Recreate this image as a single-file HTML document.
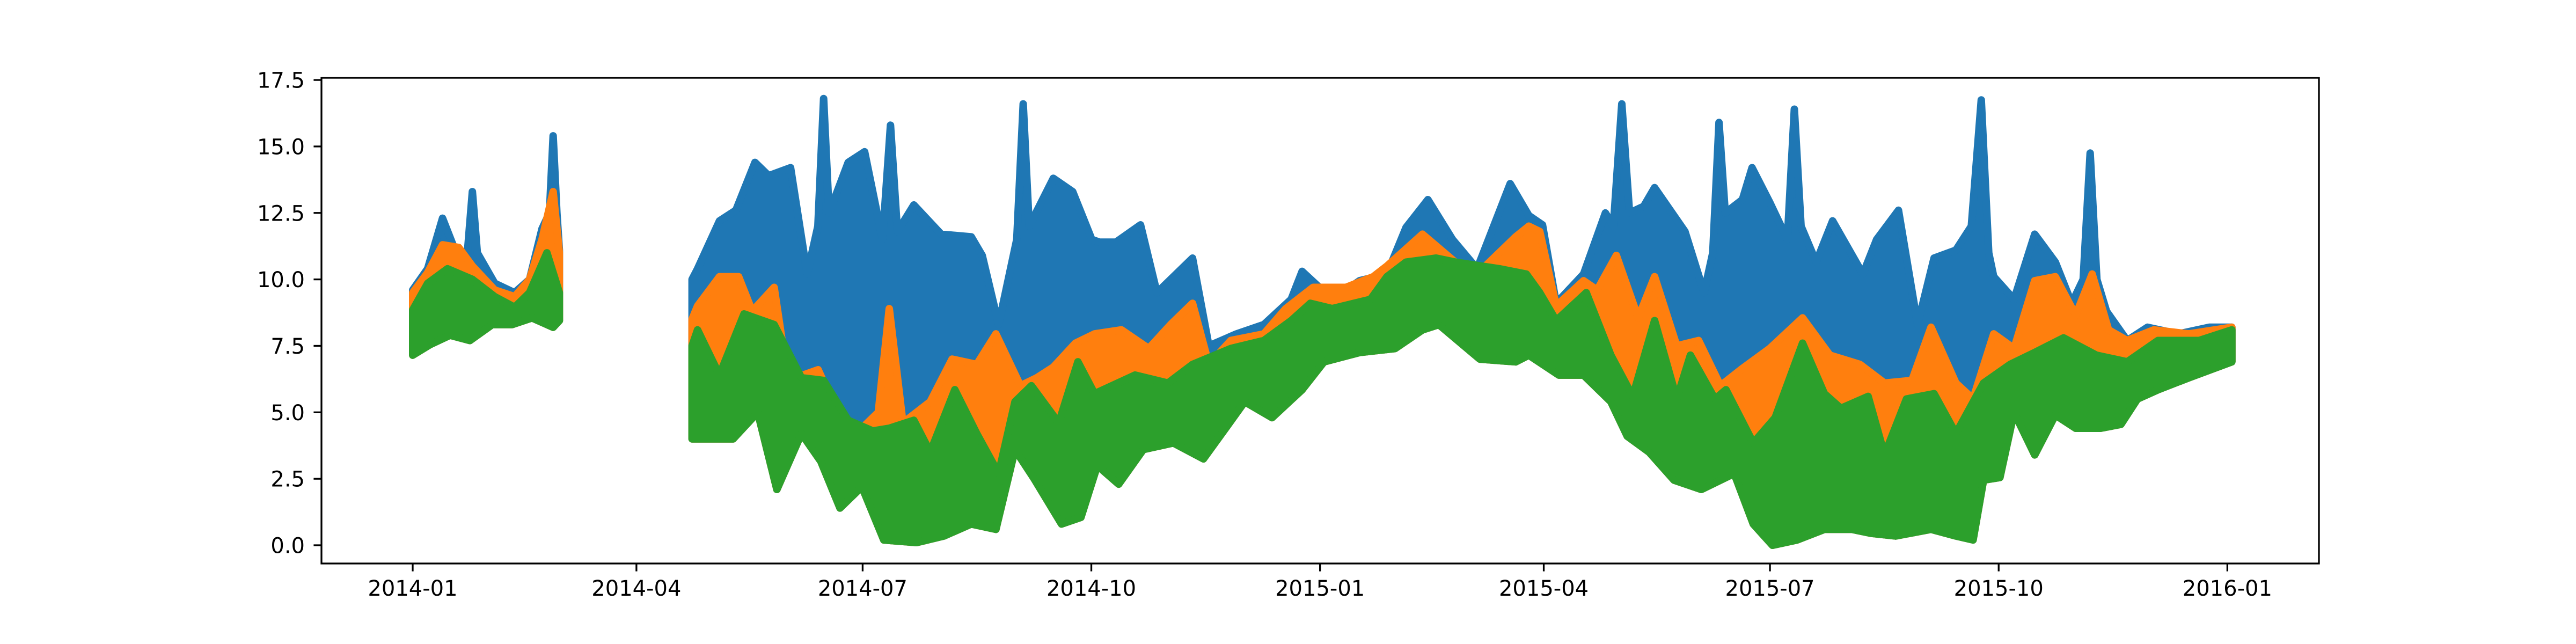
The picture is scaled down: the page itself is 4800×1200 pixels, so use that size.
<!DOCTYPE html>
<html><head><meta charset="utf-8"><style>
html,body{margin:0;padding:0;background:#fff;}
svg{display:block;}
text{font-family:"DejaVu Sans","Liberation Sans",sans-serif;font-size:40px;fill:#000;}
</style></head><body>
<svg id="chart" width="4800" height="1200" viewBox="0 0 4800 1200" xmlns="http://www.w3.org/2000/svg">
<rect x="0" y="0" width="4800" height="1200" fill="#fff"/>
<g id="plot"></g>
<g id="axes"></g>
</svg>
<script>
// x in days since 2014-01-01; null separates the two data segments
const xTickDays = [0, 90, 181, 273, 365, 455, 546, 638, 730];
const xTickLabels = ["2014-01","2014-04","2014-07","2014-10","2015-01","2015-04","2015-07","2015-10","2016-01"];
const yTickValues = [0, 2.5, 5, 7.5, 10, 12.5, 15, 17.5];
const yTickLabels = ["0.0","2.5","5.0","7.5","10.0","12.5","15.0","17.5"];

const blueHiDays = [0,6,12,18.5,22,24,26,33,41,47,52,55,56.5,58,59,null,112.4,114.6,123.4,130,137.7,143.2,152,158.7,163,165.3,167.5,175.2,181.8,189,192.2,195,201.6,212.6,224.7,229.1,235.7,243,245.6,248,257.7,265.5,273.2,276.3,282.9,292.8,299.4,313.7,320.3,331.4,342.4,353.4,357.8,369.9,380.9,391.9,399.6,408.4,418.3,428.2,441.5,449,454.5,460,471,479.8,483,486.4,489.5,495.2,499.6,511.8,519.5,523,525.5,528,534.9,538.8,545.9,553,555.8,558.5,564.6,571.2,583.4,588.9,597.7,605.4,612,620.8,627,631,634,636,644.2,652.5,660.8,667.4,672,674.8,677.5,681.4,689.7,697.9,710.3,722.7,731.8];
const blueHi = [9.6,10.4,12.3,10.75,11,13.3,11,9.85,9.5,10.0,11.9,12.5,15.4,12.5,11.1,null,10.0,10.4,12.2,12.6,14.4,13.9,14.2,10.2,12,16.8,12.5,14.4,14.8,11.5,15.8,11.8,12.8,11.7,11.6,10.9,8.3,11.5,16.6,12,13.8,13.3,11.5,11.4,11.4,12.05,9.5,10.8,7.5,7.95,8.3,9.25,10.3,9.25,9.95,10.2,11.95,13.0,11.5,10.4,13.6,12.4,12.05,9.1,10.2,12.5,12,16.6,12.5,12.75,13.45,11.8,9.5,11,15.9,12.5,13.0,14.2,12.9,11.5,16.4,12,10.65,12.2,10.2,11.5,12.6,8.3,10.8,11.1,12,16.75,11,10.1,9.25,11.7,10.65,9.1,10,14.75,10,8.8,7.7,8.2,7.95,8.2,8.2];

const orangeHiDays = [0,6,12,18.5,24,33,41,47,52,56.5,59,null,112.4,114.6,123.4,131.1,136.6,145.4,151,163.1,171.9,180.7,187.3,191.7,197.2,208.2,217,226.9,234.6,244.5,251.1,257.7,266.6,274.3,285.1,296.1,304.9,313.7,320.3,329.1,342.4,351.2,362.2,375.4,386.4,391.9,406.2,419.4,430.4,443.7,449,453.4,460,471,476.5,484.2,493,499.6,508.5,517.3,526.1,534.9,545.9,559.1,570.1,582.2,592.1,603.1,610.8,620.8,627.7,636,644.2,652.5,660.8,669,675.6,682.2,689.7,700.4,714.5,731.8];
const orangeHi = [9.5,10.25,11.3,11.2,10.5,9.6,9.35,10.0,11.5,13.3,11.0,null,8.5,9.0,10.1,10.1,8.8,9.7,6.2,6.6,4.8,4.4,5.0,8.9,4.6,5.4,7.0,6.8,7.95,6.0,6.3,6.7,7.6,7.95,8.1,7.4,8.3,9.1,6.8,7.7,7.95,8.9,9.7,9.7,10.1,10.5,11.7,10.65,10.4,11.6,12.0,11.8,9.0,9.95,9.6,10.9,8.55,10.1,7.5,7.7,6.0,6.65,7.4,8.55,7.15,6.8,6.1,6.2,8.2,6.1,5.5,7.95,7.4,9.95,10.1,8.65,10.2,8.1,7.7,8.1,7.95,8.2];

const greenHiDays = [0,6,14,24,33,41,47,54,59,null,112.4,114.6,123.4,133.3,145.4,156.4,165.3,175.2,185.1,191.7,201.6,208.2,218.1,226.9,235.7,242.3,248.9,259.9,267.6,274.3,290.6,303.8,313.7,329.1,342.4,353.4,361.1,369.9,385.3,391.9,399.6,411.7,419.4,437.1,448,453.4,460,472.1,482,490.8,499.6,508.5,514,523.9,528.3,539.3,548.1,559.1,567.9,574.5,585.5,592.1,600.9,612,620.8,631.9,642.6,652.5,664.1,677.3,689.7,702.1,718.6,731.8];
const greenHi = [8.85,9.85,10.4,10.0,9.35,8.95,9.5,11.0,9.5,null,7.5,8.1,6.4,8.7,8.3,6.3,6.2,4.7,4.3,4.4,4.7,3.5,5.85,4.2,2.7,5.4,6.0,4.6,6.9,5.7,6.4,6.1,6.8,7.4,7.7,8.45,9.1,8.9,9.25,10.1,10.65,10.8,10.65,10.4,10.2,9.5,8.45,9.5,7.15,5.6,8.45,5.5,7.15,5.5,5.85,3.85,4.8,7.6,5.7,5.15,5.6,3.4,5.5,5.7,4.2,6.1,6.8,7.25,7.8,7.15,6.9,7.7,7.7,8.1];

// shared lower envelope (green/orange/blue lower bound)
const lowDays = [0,7,15,23,32,40,48,56.5,59,null,112.4,114.6,128.9,138.8,146.5,156.4,164.2,171.9,180.7,189.5,202.7,213.7,224.7,234.6,242.3,250,261,268.8,275.4,284,293.9,306,318.1,327,334.7,345.7,357.8,366.6,380.9,395.2,406.2,412.8,429.3,443.7,449,461.1,471,482,488.6,497.4,507.4,518.4,531.6,539.3,547,556.9,567.9,578.9,586.6,596.5,610.8,620.8,627.7,631.9,638.5,644.2,652.5,660.8,669,678.9,687.2,693.8,702.1,714.5,731.8];
const lowVals = [7.15,7.55,7.9,7.7,8.3,8.3,8.55,8.2,8.45,null,4.0,4.0,4.0,5.0,2.1,4.2,3.15,1.4,2.2,0.2,0.1,0.35,0.8,0.6,3.6,2.5,0.8,1.05,3.0,2.3,3.6,3.85,3.25,4.4,5.4,4.8,5.85,6.9,7.25,7.4,8.1,8.3,7.0,6.9,7.15,6.4,6.4,5.4,4.1,3.5,2.45,2.1,2.7,0.8,0.0,0.2,0.6,0.6,0.45,0.35,0.6,0.35,0.2,2.45,2.55,5.0,3.4,4.9,4.4,4.4,4.55,5.5,5.85,6.3,6.9];

const X0 = 769, PX_PER_DAY = 4.632;
const Y0 = 1016, PX_PER_UNIT = 49.54;
const AX = {left:599, right:4321, top:145, bottom:1050};
function xScale(d){ return X0 + d*PX_PER_DAY; }
function yScale(v){ return Y0 - v*PX_PER_UNIT; }
const NS = "http://www.w3.org/2000/svg";

function segments(days, vals){
  const segs=[]; let cur=[];
  for(let i=0;i<days.length;i++){
    if(days[i]===null){ if(cur.length) segs.push(cur); cur=[]; }
    else cur.push([xScale(days[i]), yScale(vals[i])]);
  }
  if(cur.length) segs.push(cur);
  return segs;
}
const plot = document.getElementById('plot');
function band(hiDays, hi, color, name){
  const tops = segments(hiDays, hi);
  const lows = segments(lowDays, lowVals);
  tops.forEach((top, k) => {
    const low = lows[k].slice().reverse();
    const pts = top.concat(low).map(p => p[0].toFixed(1)+','+p[1].toFixed(1)).join(' ');
    const poly = document.createElementNS(NS,'polygon');
    poly.setAttribute('points', pts);
    poly.setAttribute('fill', color);
    poly.setAttribute('stroke', color);
    poly.setAttribute('stroke-width', '14');
    poly.setAttribute('stroke-linejoin', 'round');
    
    
    plot.appendChild(poly);
  });
}
band(blueHiDays, blueHi, '#1f77b4', 'blue-series');
band(orangeHiDays, orangeHi, '#ff7f0e', 'orange-series');
band(greenHiDays, greenHi, '#2ca02c', 'green-series');

const axes = document.getElementById('axes');
const frame = document.createElementNS(NS,'rect');
frame.setAttribute('x', AX.left); frame.setAttribute('y', AX.top);
frame.setAttribute('width', AX.right-AX.left); frame.setAttribute('height', AX.bottom-AX.top);
frame.setAttribute('fill','none'); frame.setAttribute('stroke','#000'); frame.setAttribute('stroke-width','3.3');


axes.appendChild(frame);

xTickDays.forEach((d,i) => {
  const x = xScale(d);
  const t = document.createElementNS(NS,'line');
  t.setAttribute('x1',x); t.setAttribute('x2',x); t.setAttribute('y1',AX.bottom); t.setAttribute('y2',AX.bottom+14.6);
  t.setAttribute('stroke','#000'); t.setAttribute('stroke-width','3.3');
  
  
  axes.appendChild(t);
  const l = document.createElementNS(NS,'text');
  l.setAttribute('x',x); l.setAttribute('y',1110); l.setAttribute('text-anchor','middle');
  l.textContent = xTickLabels[i];
  
  
  axes.appendChild(l);
});
yTickValues.forEach((v,i) => {
  const y = yScale(v);
  const t = document.createElementNS(NS,'line');
  t.setAttribute('x1',AX.left-14.6); t.setAttribute('x2',AX.left); t.setAttribute('y1',y); t.setAttribute('y2',y);
  t.setAttribute('stroke','#000'); t.setAttribute('stroke-width','3.3');
  
  
  axes.appendChild(t);
  const l = document.createElementNS(NS,'text');
  l.setAttribute('x',568); l.setAttribute('y',y+14.5); l.setAttribute('text-anchor','end');
  l.textContent = yTickLabels[i];
  
  
  axes.appendChild(l);
});
</script>
</body></html>
